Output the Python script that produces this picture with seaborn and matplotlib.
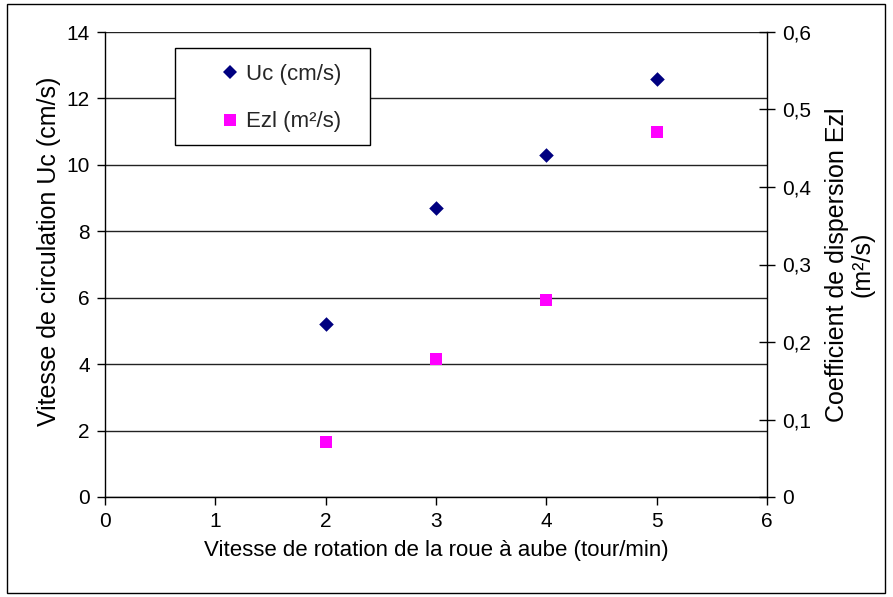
import matplotlib
matplotlib.use("Agg")
import matplotlib.pyplot as plt
import seaborn as sns
import pandas as pd
from matplotlib.ticker import FuncFormatter, MultipleLocator
from matplotlib.patches import Rectangle
from matplotlib.lines import Line2D

sns.set_theme(style="white")
plt.rcParams["font.family"] = ["Liberation Sans", "DejaVu Sans"]

# Measurements
rotation = [2, 3, 4, 5]            # tour/min
uc = [5.2, 8.7, 10.3, 12.6]        # cm/s
ezl = [0.071, 0.178, 0.254, 0.471]  # m²/s

df = pd.DataFrame({"rotation": rotation, "uc": uc, "ezl": ezl})

fig = plt.figure(figsize=(8.93, 5.97), dpi=100)
ax = fig.add_axes([105 / 893, 1 - 497 / 597, 662 / 893, 465 / 597])
ax2 = ax.twinx()

fs_tick = 15
fs_label = 16
fs_ylabel = 18

sns.scatterplot(data=df, x="rotation", y="uc", ax=ax, marker="D", s=55,
                color="#000080", edgecolor="#000080", linewidth=0, zorder=5)
sns.scatterplot(data=df, x="rotation", y="ezl", ax=ax2, marker="s", s=85,
                color="#FF00FF", edgecolor="#FF00FF", linewidth=0, zorder=5)

ax.set_xlim(0, 6)
ax.set_ylim(0, 14)
ax2.set_ylim(0, 0.6)
ax.xaxis.set_major_locator(MultipleLocator(1))
ax.yaxis.set_major_locator(MultipleLocator(2))
ax2.yaxis.set_major_locator(MultipleLocator(0.1))
ax2.yaxis.set_major_formatter(FuncFormatter(
    lambda v, p: "0" if abs(v) < 1e-9 else f"{v:.1f}".replace(".", ",")))

ax.grid(True, axis="y", color="#222222", linewidth=1)
ax.set_axisbelow(True)
for a in (ax, ax2):
    a.spines["top"].set_visible(False)
    for s in ("left", "right", "bottom"):
        a.spines[s].set_color("black")
        a.spines[s].set_linewidth(1)
ax.spines["right"].set_visible(False)
ax2.spines["left"].set_visible(False)
ax2.spines["bottom"].set_visible(False)

ax.tick_params(axis="both", direction="out", length=6, width=1, color="black",
               labelsize=fs_tick, labelcolor="black", pad=5,
               left=True, bottom=True)
ax2.tick_params(axis="y", direction="inout", length=12, width=1, color="black",
                labelsize=fs_tick, labelcolor="black", pad=5, right=True)

ax.set_xlabel("Vitesse de rotation de la roue à aube (tour/min)",
              fontsize=fs_label, color="black", labelpad=6)
ax.set_ylabel("Vitesse de circulation Uc (cm/s)", fontsize=fs_ylabel,
              color="black")
ax.yaxis.set_label_coords(-0.066, 0.529)
ax2.set_ylabel("Coefficient de dispersion Ezl\n(m²/s)", fontsize=fs_ylabel,
               color="black", labelpad=10, linespacing=1.05)

# Legend box
ax.add_patch(Rectangle((0.106, 0.757), 0.294, 0.209, transform=ax.transAxes,
                       fill=True, facecolor="white", edgecolor="black",
                       linewidth=1, zorder=9))
handles = [
    Line2D([], [], marker="D", linestyle="none", color="#000080",
           markersize=7, markeredgewidth=0),
    Line2D([], [], marker="s", linestyle="none", color="#FF00FF",
           markersize=9, markeredgewidth=0),
]
leg = ax.legend(handles, ["Uc (cm/s)", "Ezl (m²/s)"], loc="center left",
                bbox_to_anchor=(0.175, 0.858), fontsize=fs_label, frameon=False,
                borderpad=0, labelspacing=1.2, handlelength=0.8,
                handletextpad=0.35, borderaxespad=0)
leg.set_zorder(10)

# Outer frame around the whole chart
fig.patches.append(Rectangle((7 / 893, 1 - 593 / 597), 878 / 893, 589 / 597,
                             transform=fig.transFigure, fill=False,
                             edgecolor="black", linewidth=1))

fig.savefig("out.png", dpi=100)
